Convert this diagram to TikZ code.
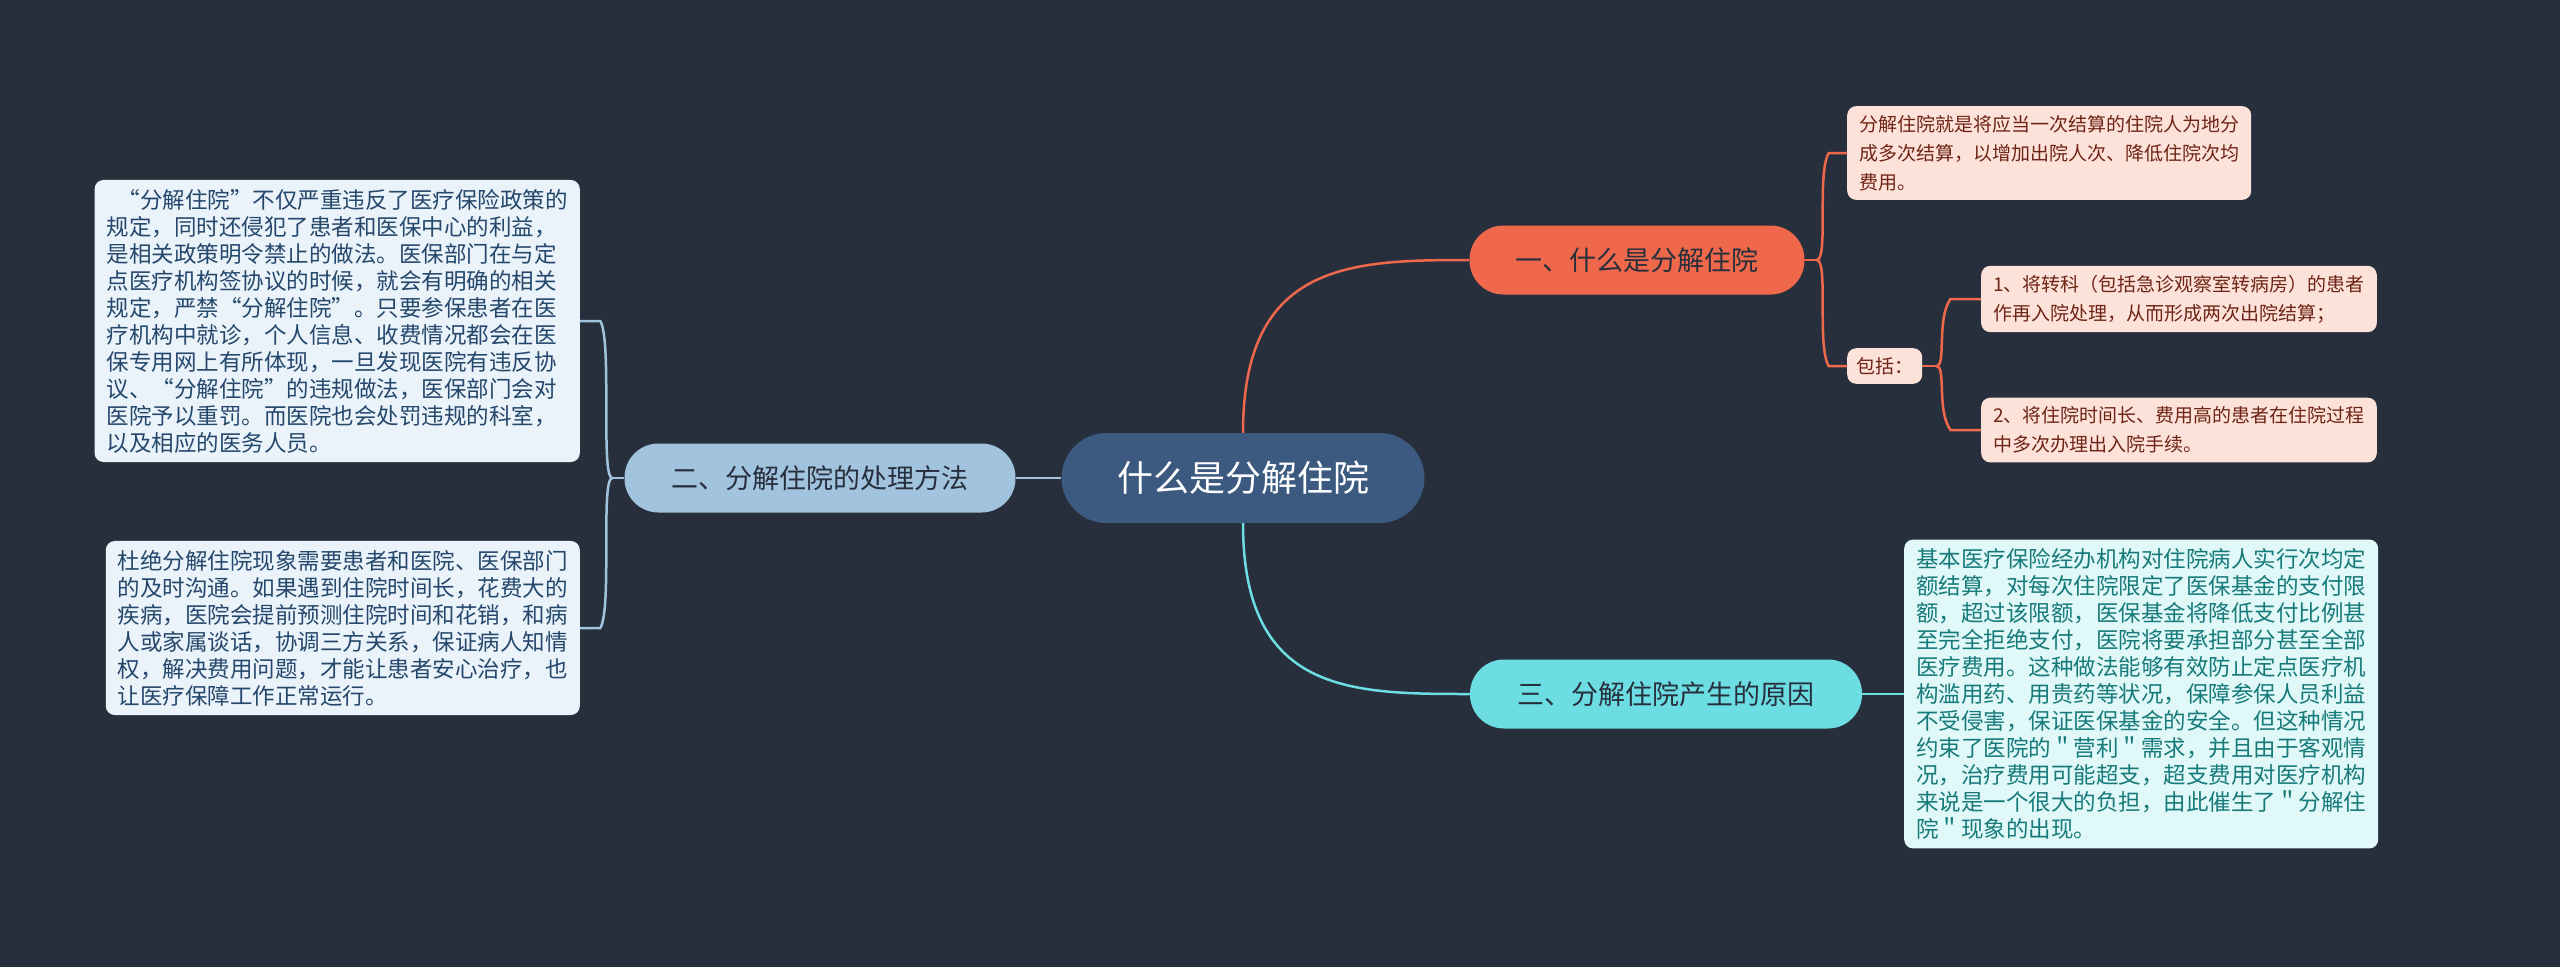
\documentclass[tikz,border=0pt]{standalone}
\usepackage{fontspec}
\setmainfont{Noto Sans CJK SC}
\usetikzlibrary{positioning, calc}
\definecolor{bgcol}{HTML}{272F3D}
\definecolor{rootcol}{HTML}{3C5A80}
\definecolor{redcol}{HTML}{F0684B}
\definecolor{redleaf}{HTML}{FDE2DA}
\definecolor{redtext}{HTML}{6E2414}
\definecolor{bluecol}{HTML}{A2C3DE}
\definecolor{blueleaf}{HTML}{EAF3FA}
\definecolor{bluetext}{HTML}{24476B}
\definecolor{cyancol}{HTML}{6CDDE2}
\definecolor{cyanleaf}{HTML}{E0F8F8}
\definecolor{cyantext}{HTML}{177A7A}
\tikzset{
  branchbox/.style={rounded corners=34pt, minimum height=69pt, inner xsep=22pt, font=\fontsize{27}{32}\selectfont},
  leafbox/.style={rounded corners=9pt, inner xsep=12pt, inner ysep=9pt, align=left},
  bigtext/.style={font=\fontsize{22.5}{27}\selectfont},
  smalltext/.style={font=\fontsize{19}{29}\selectfont},
  link/.style={line width=2.5pt}
}
\begin{document}
\begin{tikzpicture}[x=1pt,y=-1pt]
\fill[bgcol] (0,0) rectangle (2560,967);

% root
\node[fill=rootcol, text=white, rounded corners=45pt, minimum width=363pt, minimum height=90pt,
  font=\fontsize{36}{40}\selectfont] (root) at (1243,478) {什么是分解住院};

% branches
\node[branchbox, fill=redcol, text=bgcol, minimum width=335pt] (what) at (1637,260) {一、什么是分解住院};
\node[branchbox, fill=bluecol, text=bgcol, minimum width=391pt] (how) at (820,478) {二、分解住院的处理方法};
\node[branchbox, fill=cyancol, text=bgcol, minimum width=392pt] (why) at (1666,694) {三、分解住院产生的原因};

% red leaves
\node[leafbox, smalltext, fill=redleaf, text=redtext, anchor=west] (def) at (1847,153)
  {分解住院就是将应当一次结算的住院人为地分\\成多次结算，以增加出院人次、降低住院次均\\费用。};
\node[leafbox, smalltext, fill=redleaf, text=redtext, anchor=west, inner xsep=9pt] (incl) at (1847,366) {包括：};
\node[leafbox, smalltext, fill=redleaf, text=redtext, anchor=west] (one) at (1981,299)
  {1、将转科（包括急诊观察室转病房）的患者\\作再入院处理，从而形成两次出院结算；};
\node[leafbox, smalltext, fill=redleaf, text=redtext, anchor=west] (two) at (1981,430)
  {2、将住院时间长、费用高的患者在住院过程\\中多次办理出入院手续。};

% blue leaves
\node[leafbox, bigtext, fill=blueleaf, text=bluetext, anchor=east] (law) at (580,321)
  {\hspace*{0.5em}“分解住院”不仅严重违反了医疗保险政策的\\规定，同时还侵犯了患者和医保中心的利益，\\是相关政策明令禁止的做法。医保部门在与定\\点医疗机构签协议的时候，就会有明确的相关\\规定，严禁“分解住院”。只要参保患者在医\\疗机构中就诊，个人信息、收费情况都会在医\\保专用网上有所体现，一旦发现医院有违反协\\议、“分解住院”的违规做法，医保部门会对\\医院予以重罚。而医院也会处罚违规的科室，\\以及相应的医务人员。};
\node[leafbox, bigtext, fill=blueleaf, text=bluetext, anchor=east] (stop) at (580,628)
  {杜绝分解住院现象需要患者和医院、医保部门\\的及时沟通。如果遇到住院时间长，花费大的\\疾病，医院会提前预测住院时间和花销，和病\\人或家属谈话，协调三方关系，保证病人知情\\权，解决费用问题，才能让患者安心治疗，也\\让医疗保障工作正常运行。};

% cyan leaf
\node[leafbox, bigtext, fill=cyanleaf, text=cyantext, anchor=west] (cause) at (1904,694)
  {基本医疗保险经办机构对住院病人实行次均定\\额结算，对每次住院限定了医保基金的支付限\\额，超过该限额，医保基金将降低支付比例甚\\至完全拒绝支付，医院将要承担部分甚至全部\\医疗费用。这种做法能够有效防止定点医疗机\\构滥用药、用贵药等状况，保障参保人员利益\\不受侵害，保证医保基金的安全。但这种情况\\约束了医院的＂营利＂需求，并且由于客观情\\况，治疗费用可能超支，超支费用对医疗机构\\来说是一个很大的负担，由此催生了＂分解住\\院＂现象的出现。};

% links from root
\draw[link, redcol] (root.north) .. controls ($(root.north)+(0,-170)$) and ($(what.west)+(-120,0)$) .. (what.west);
\draw[link, cyancol] (root.south) .. controls ($(root.south)+(0,170)$) and ($(why.west)+(-120,0)$) .. (why.west);
\draw[link, bluecol] (root.west) -- (how.east);

% red links
\draw[link, redcol] (what.east) -- ++(12,0) coordinate (rj);
\draw[link, redcol] (rj) .. controls ($(rj)+(12,0)$) and ($(rj|-def.west)+(0,20)$) .. ($(rj|-def.west)+(12,-0)$) -- (def.west);
\draw[link, redcol] (rj) .. controls ($(rj)+(12,0)$) and ($(rj|-incl.west)+(0,-20)$) .. ($(rj|-incl.west)+(12,0)$) -- (incl.west);
\draw[link, redcol] (incl.east) -- ++(14,0) coordinate (ij);
\draw[link, redcol] (ij) .. controls ($(ij)+(10,0)$) and ($(ij|-one.west)+(0,20)$) .. ($(ij|-one.west)+(14,0)$) -- (one.west);
\draw[link, redcol] (ij) .. controls ($(ij)+(10,0)$) and ($(ij|-two.west)+(0,-20)$) .. ($(ij|-two.west)+(14,0)$) -- (two.west);

% blue links
\draw[link, bluecol] (how.west) -- ++(-12,0) coordinate (bj);
\draw[link, bluecol] (bj) .. controls ($(bj)+(-12,0)$) and ($(bj|-law.east)+(0,20)$) .. ($(bj|-law.east)+(-12,0)$) -- (law.east);
\draw[link, bluecol] (bj) .. controls ($(bj)+(-12,0)$) and ($(bj|-stop.east)+(0,-20)$) .. ($(bj|-stop.east)+(-12,0)$) -- (stop.east);

% cyan link
\draw[link, cyancol] (why.east) -- (cause.west);
\end{tikzpicture}
\end{document}
